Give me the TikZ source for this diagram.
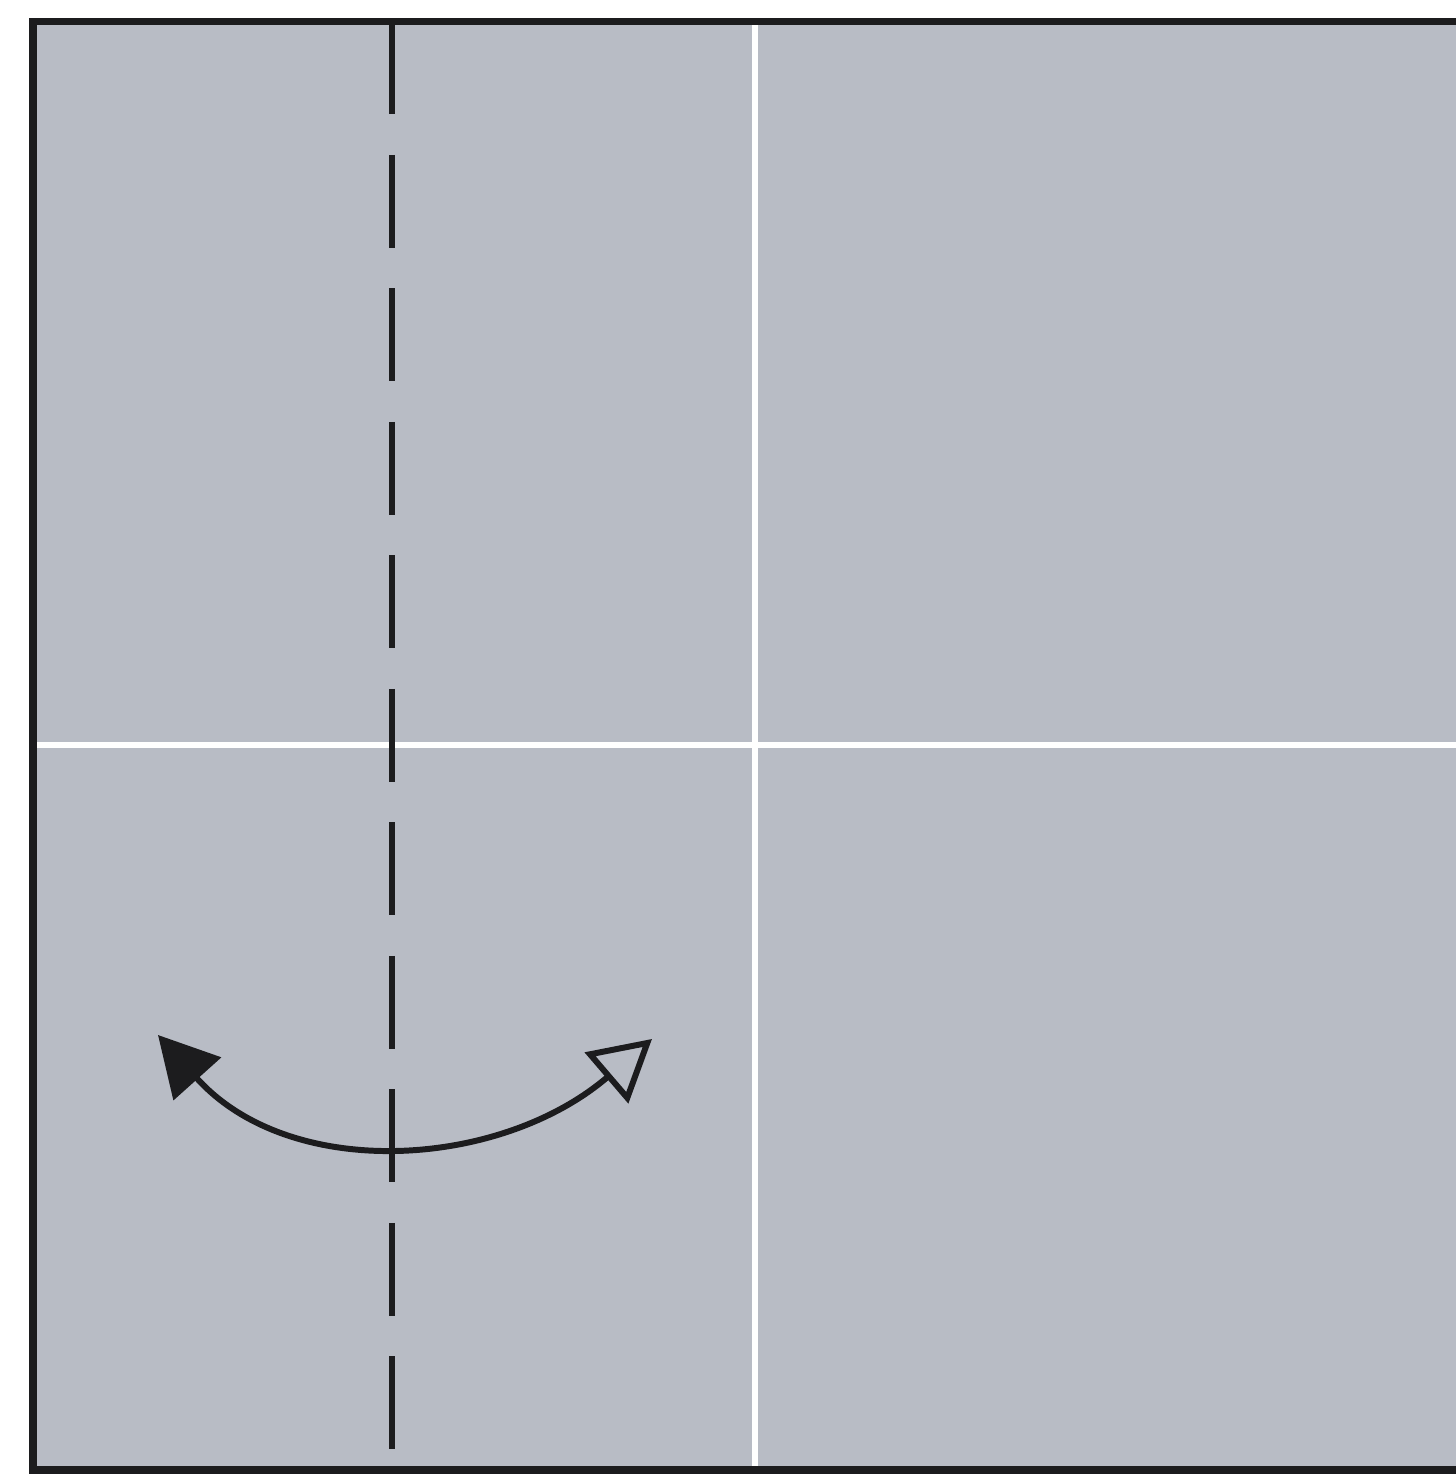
\documentclass[tikz,border=0pt]{standalone}
\usepackage{tikz}
\usetikzlibrary{arrows.meta}
\definecolor{paper}{RGB}{184,188,197}
\definecolor{ink}{RGB}{28,28,30}
\tikzset{
  sheet/.style={fill=paper, draw=ink, line width=2pt},
  crease/.style={draw=white, line width=1.8pt},
  valley/.style={draw=ink, line width=1.6pt, dash pattern=on 9.3mm off 4.05mm},
  unfoldarrow/.style={draw=ink, line width=1.7pt,
    {Triangle[length=5.9mm, width=6.3mm]}-{Triangle[open, length=6mm, width=6.6mm]}}
}
\begin{document}
\begin{tikzpicture}[x=1cm,y=1cm]
  \useasboundingbox (0,0) rectangle (14.56,14.77);
  \fill[white] (0,0) rectangle (14.56,14.77);
  \clip (0,0) rectangle (14.56,14.77);
  \fill[paper] (0.33,0.07) rectangle (15,14.555);

  \coordinate (vtop) at (7.55,14.555);
  \coordinate (vbot) at (7.55,0.07);
  \coordinate (hleft) at (0.33,7.32);
  \coordinate (hright) at (15,7.32);
  \draw[crease] (vtop) -- (vbot);
  \draw[crease] (hleft) -- (hright);

  \coordinate (ftop) at (3.92,14.555);
  \coordinate (fbot) at (3.92,0.28);
  \draw[valley] (ftop) -- (fbot);

  \coordinate (back) at (1.58,4.42);
  \coordinate (front) at (6.52,4.38);
  \draw[unfoldarrow] (back) .. controls (2.9,2.95) and (5.0,3.08) .. (front);

  \draw[sheet, fill=none] (15,0.07) -- (0.33,0.07) -- (0.33,14.555) -- (15,14.555);
\end{tikzpicture}
\end{document}
